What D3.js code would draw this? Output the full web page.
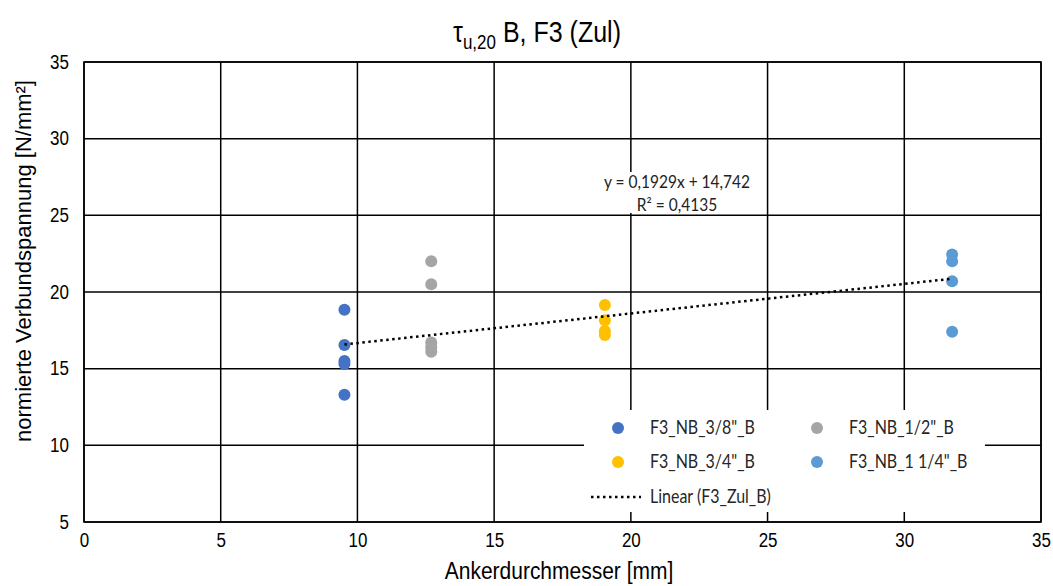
<!DOCTYPE html>
<html>
<head>
<meta charset="utf-8">
<script src="https://cdn.jsdelivr.net/npm/d3@7"></script>
<style>
  body { margin: 0; background: #fff; }
  svg { font-family: "Liberation Sans", Arial, sans-serif; }
</style>
</head>
<body>
<svg width="1053" height="586"></svg>
<script>
// series data: anchor diameter [mm] and normalised bond stress [N/mm²]
const seriesNames = ['F3_NB_3/8"_B', 'F3_NB_1/2"_B', 'F3_NB_3/4"_B', 'F3_NB_1 1/4"_B'];
const seriesColors = ["#4472C4", "#A5A5A5", "#FFC000", "#5B9BD5"];
const diameters = [9.525, 12.7, 19.05, 31.75];
const stress38 = [18.85, 16.55, 15.5, 15.3, 13.3];
const stress12 = [22.0, 20.5, 16.7, 16.4, 16.1];
const stress34 = [19.15, 18.15, 17.45, 17.2];
const stress114 = [22.45, 22.0, 20.7, 17.4];
const trendSlope = 0.1929;
const trendIntercept = 14.742;
const xTicks = [0, 5, 10, 15, 20, 25, 30, 35];
const yTicks = [5, 10, 15, 20, 25, 30, 35];

const allStress = [stress38, stress12, stress34, stress114];

let svg = d3.select("svg");
const pLeft = 84, pRight = 1041, pTop = 62, pBottom = 522;
const stretch = 1.15; // the reference text looks a bit taller than wide

const x = d3.scaleLinear().domain([0, 35]).range([pLeft, pRight]);
const y = d3.scaleLinear().domain([5, 35]).range([pBottom, pTop]);

// gridlines
let grid = svg.append("g");
grid.selectAll("line.v")
    .data(xTicks)
  .enter().append("line")
    .attr("x1", d => x(d)).attr("x2", d => x(d))
    .attr("y1", pTop).attr("y2", pBottom)
    .attr("stroke", "#000").attr("stroke-width", 1.5);
grid.selectAll("line.h")
    .data(yTicks)
  .enter().append("line")
    .attr("x1", pLeft).attr("x2", pRight)
    .attr("y1", d => y(d)).attr("y2", d => y(d))
    .attr("stroke", "#000").attr("stroke-width", 1.5);

// axes labels (no domain line, ticks drawn by grid)
let xAxis = svg.append("g")
    .attr("transform", `translate(0,${pBottom})`)
    .call(d3.axisBottom(x).tickValues(xTicks).tickSize(0).tickPadding(10));
xAxis.select(".domain").remove();
xAxis.selectAll("text").attr("font-size", 17).attr("fill", "#000")
    .attr("font-family", "Liberation Sans, Arial, sans-serif")
    .attr("transform", `scale(1,${stretch})`);

let yAxis = svg.append("g")
    .attr("transform", `translate(${pLeft},0)`)
    .call(d3.axisLeft(y).tickValues(yTicks).tickSize(0).tickPadding(15));
yAxis.select(".domain").remove();
yAxis.selectAll("text").attr("font-size", 17).attr("fill", "#000")
    .attr("font-family", "Liberation Sans, Arial, sans-serif")
    .attr("transform", `scale(1,${stretch})`);

// trendline equation box
svg.append("rect")
    .attr("x", 597).attr("y", 172).attr("width", 163).attr("height", 41)
    .attr("fill", "#fff");

// points
let pts = [];
allStress.forEach((arr, i) => {
    arr.forEach(v => pts.push({ d: diameters[i], v: v, c: seriesColors[i] }));
});

svg.append("g")
    .selectAll("circle")
    .data(pts)
  .enter().append("circle")
    .attr("cx", d => x(d.d))
    .attr("cy", d => y(d.v))
    .attr("r", 6)
    .attr("fill", d => d.c);

// trendline
const xMin = d3.min(diameters), xMax = d3.max(diameters);
svg.append("line")
    .attr("x1", x(xMin)).attr("y1", y(trendSlope * xMin + trendIntercept))
    .attr("x2", x(xMax)).attr("y2", y(trendSlope * xMax + trendIntercept))
    .attr("stroke", "#000").attr("stroke-width", 2.5)
    .attr("stroke-dasharray", "2.5,3.5");

let eq = svg.append("g").attr("font-family", "Lato, 'Open Sans', sans-serif")
    .attr("font-size", 15.5).attr("text-anchor", "middle").attr("fill", "#222");
eq.append("text").attr("transform", `translate(677,188) scale(1,1.08)`)
    .text("y = 0,1929x + 14,742");
eq.append("text").attr("transform", `translate(677,211) scale(1,1.08)`)
    .text("R² = 0,4135");

// legend
svg.append("rect")
    .attr("x", 584).attr("y", 410).attr("width", 401).attr("height", 102)
    .attr("fill", "#fff");
let legend = svg.append("g").attr("font-family", "Lato, 'Open Sans', sans-serif")
    .attr("font-size", 16).attr("fill", "#262626");
const legPos = [[618, 428], [817, 428], [618, 462], [817, 462]];
seriesNames.forEach((name, i) => {
    legend.append("circle")
        .attr("cx", legPos[i][0]).attr("cy", legPos[i][1]).attr("r", 6)
        .attr("fill", seriesColors[i]);
    legend.append("text")
        .attr("transform", `translate(${legPos[i][0] + 32},${legPos[i][1] + 6}) scale(1,${stretch})`)
        .text(name);
});
legend.append("line")
    .attr("x1", 591).attr("x2", 641).attr("y1", 497).attr("y2", 497)
    .attr("stroke", "#000").attr("stroke-width", 2.5)
    .attr("stroke-dasharray", "2.5,3.5");
legend.append("text")
    .attr("transform", `translate(650,503) scale(1,${stretch})`)
    .text("Linear (F3_Zul_B)");

// frame
svg.append("rect")
    .attr("x", pLeft).attr("y", pTop).attr("width", pRight - pLeft).attr("height", pBottom - pTop)
    .attr("fill", "none").attr("stroke", "#000").attr("stroke-width", 1.5);

// title
let title = svg.append("text")
    .attr("transform", `translate(537,42) scale(1,${stretch})`)
    .attr("text-anchor", "middle")
    .attr("font-size", 25).attr("fill", "#000");
title.append("tspan").text("τ");
title.append("tspan").attr("font-size", 17).attr("dy", 6).text("u,20");
title.append("tspan").attr("dy", -6).text(" B, F3 (Zul)");

// axis titles
svg.append("text")
    .attr("transform", `translate(559,579) scale(1,${stretch})`)
    .attr("text-anchor", "middle").attr("font-size", 21)
    .text("Ankerdurchmesser [mm]");

svg.append("text")
    .attr("transform", `translate(31,261) rotate(-90)`)
    .attr("text-anchor", "middle").attr("font-size", 22)
    .text("normierte Verbundspannung  [N/mm²]");
</script>
</body>
</html>
